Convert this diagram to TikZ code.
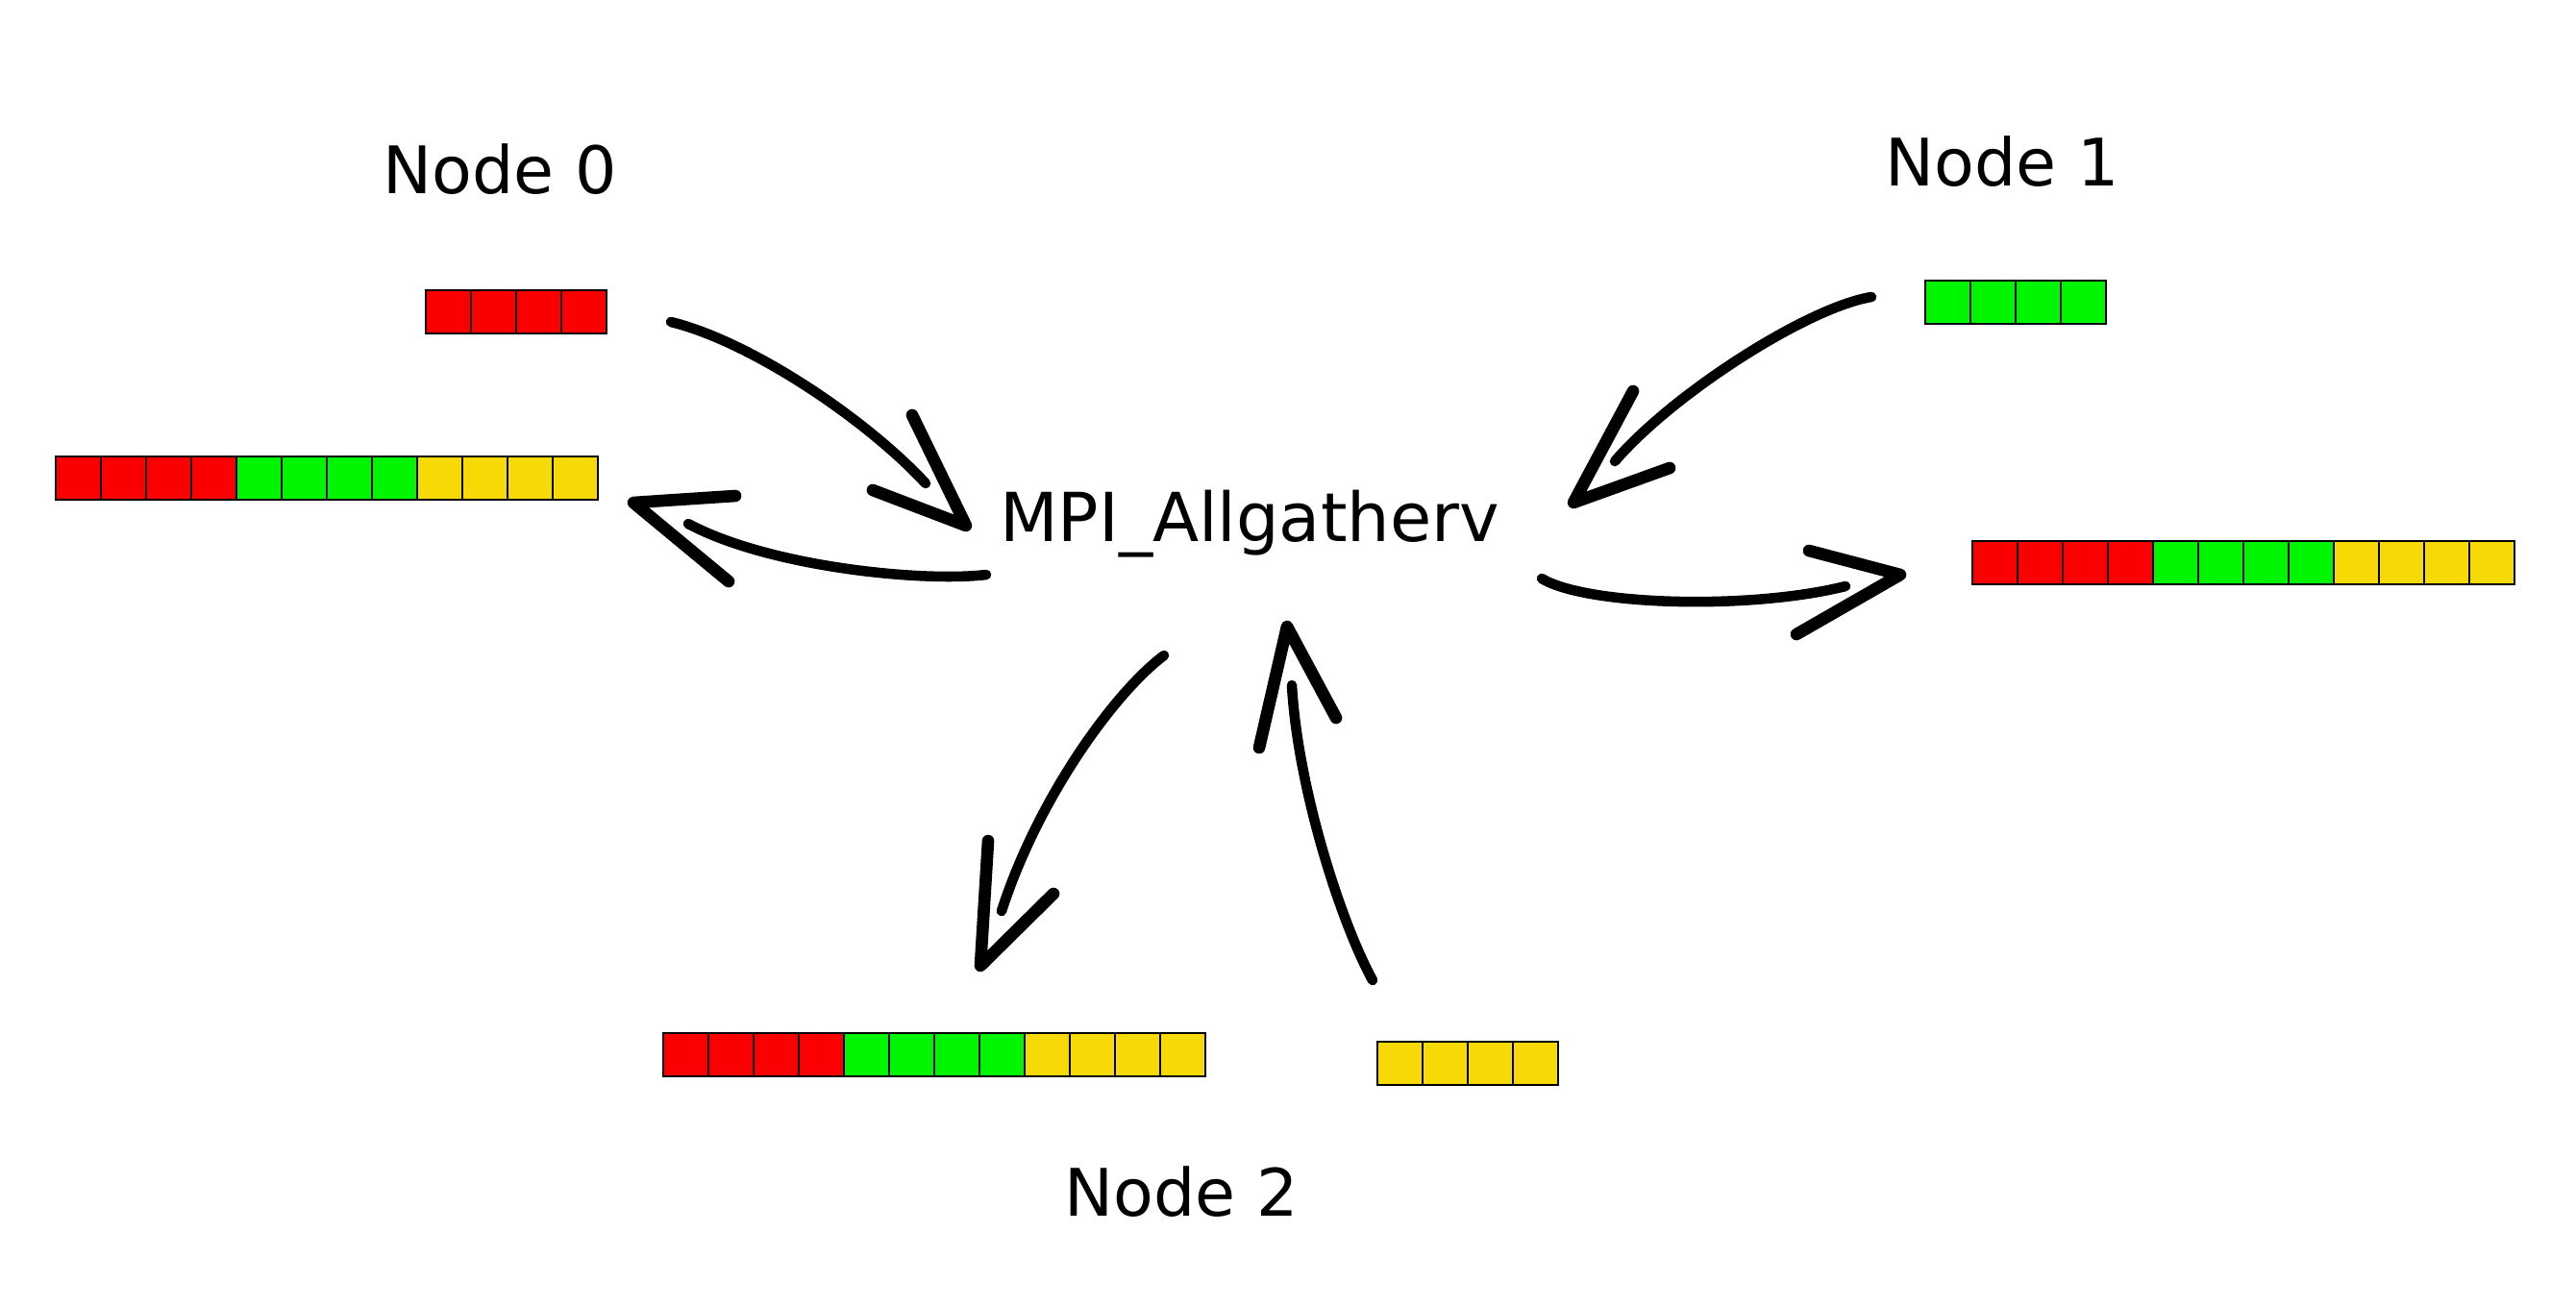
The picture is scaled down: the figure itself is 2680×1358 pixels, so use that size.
\documentclass[tikz,border=0pt]{standalone}
\usepackage{fontspec}
\setmainfont{DejaVu Sans}
\usetikzlibrary{positioning}
\definecolor{cellred}{RGB}{250,0,0}
\definecolor{cellgreen}{RGB}{0,245,0}
\definecolor{cellyellow}{RGB}{247,217,6}
\tikzset{
  cell/.style={draw, line width=0.6pt, minimum width=4.7mm, minimum height=4.5mm,
               inner sep=0pt, outer sep=0pt, anchor=north west},
  nodetitle/.style={font=\fontsize{19.4}{23}\selectfont, anchor=base, inner sep=0pt},
  calltitle/.style={font=\fontsize{20}{24}\selectfont, anchor=base, inner sep=0pt},
  brush/.style={line width=3pt, line cap=round, line join=round},
  barb/.style={line width=3.6pt, line cap=round, line join=round},
}
\def\fullrow{0/cellred,1/cellred,2/cellred,3/cellred,4/cellgreen,5/cellgreen,6/cellgreen,7/cellgreen,8/cellyellow,9/cellyellow,10/cellyellow,11/cellyellow}

\begin{document}
\begin{tikzpicture}[x=0.1mm, y=-0.1mm]
  \useasboundingbox (0,0) rectangle (2680,1358);

  % titles
  \node[nodetitle] (title0) at (520,201) {Node 0};
  \node[nodetitle] (title1) at (2083,193) {Node 1};
  \node[nodetitle] (title2) at (1229,1265) {Node 2};
  \node[calltitle] (mpi) at (1300,563) {MPI\_Allgatherv};

  % send buffers
  \foreach \i in {0,...,3} {
    \node[cell, fill=cellred] (send0-\i) at ({443+47*\i},302) {};
    \node[cell, fill=cellgreen] (send1-\i) at ({2003+47*\i},292) {};
    \node[cell, fill=cellyellow] (send2-\i) at ({1433+47*\i},1084) {};
  }

  % receive buffers
  \foreach \i/\c in \fullrow {
    \node[cell, fill=\c] (recv0-\i) at ({58+47*\i},475) {};
    \node[cell, fill=\c] (recv1-\i) at ({2052+47*\i},563) {};
    \node[cell, fill=\c] (recv2-\i) at ({690+47*\i},1075) {};
  }

  % arrow ends
  \coordinate (a0s) at (698,335);  \coordinate (a0e) at (963,503);  \coordinate (a0t) at (1005,547);
  \coordinate (b0s) at (1026,598); \coordinate (b0e) at (716,545);  \coordinate (b0t) at (659,523);
  \coordinate (a1s) at (1947,309); \coordinate (a1e) at (1680,480); \coordinate (a1t) at (1637,523);
  \coordinate (b1s) at (1604,602); \coordinate (b1e) at (1920,610); \coordinate (b1t) at (1977,598);
  \coordinate (b2s) at (1211,682); \coordinate (b2e) at (1042,948); \coordinate (b2t) at (1020,1005);
  \coordinate (a2s) at (1428,1020); \coordinate (a2e) at (1344,713); \coordinate (a2t) at (1339,652);

  % node 0
  \draw[brush] (a0s) .. controls (780,355) and (900,435) .. (a0e);
  \draw[barb] (949,432) -- (a0t) -- (908,510);
  \draw[brush] (b0s) .. controls (960,606) and (800,590) .. (b0e);
  \draw[barb] (765,516) -- (b0t) -- (758,605);

  % node 1
  \draw[brush] (a1s) .. controls (1880,320) and (1740,410) .. (a1e);
  \draw[barb] (1699,407) -- (a1t) -- (1737,487);
  \draw[brush] (b1s) .. controls (1650,630) and (1820,635) .. (b1e);
  \draw[barb] (1882,573) -- (b1t) -- (1869,660);

  % node 2
  \draw[brush] (b2s) .. controls (1160,720) and (1080,830) .. (b2e);
  \draw[barb] (1028,875) -- (b2t) -- (1096,930);
  \draw[brush] (a2s) .. controls (1395,960) and (1350,820) .. (a2e);
  \draw[barb] (1310,778) -- (a2t) -- (1390,747);
\end{tikzpicture}
\end{document}
